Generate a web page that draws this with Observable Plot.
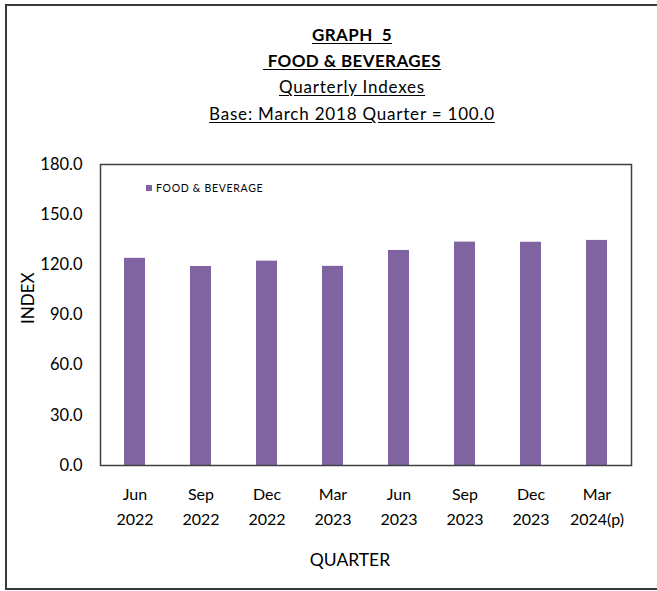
<!DOCTYPE html>
<html>
<head>
<meta charset="utf-8">
<script src="https://cdn.jsdelivr.net/npm/d3@7"></script>
<script src="https://cdn.jsdelivr.net/npm/@observablehq/plot@0.6"></script>
<style>
  html, body { margin: 0; padding: 0; background: #fff; }
  #wrap { position: relative; width: 657px; height: 591px; overflow: hidden; font-family: Lato, "Open Sans", sans-serif; color: #000; }
  #border { position: absolute; left: 5px; top: 4px; width: 700px; height: 586px; border: 2px solid #3a3a3a; box-sizing: border-box; }
  #titles { position: absolute; left: 0; top: 0; width: 657px; height: 140px; text-align: center; }
  #titles div { position: absolute; left: 0; width: 704px; text-align: center; font-size: 17px; letter-spacing: 0.8px; }
  #titles div.b { font-weight: bold; letter-spacing: 0.4px; }
  #titles span { text-decoration: underline; text-underline-offset: 2px; }
  #chart { position: absolute; left: 0; top: 140px; }
  #legend { position: absolute; left: 146px; top: 182px; font-size: 10.5px; letter-spacing: 0.7px; display: flex; align-items: center; font-family: Lato, sans-serif; }
  #legend i { display: inline-block; width: 6px; height: 6px; background: #8064A2; margin-right: 4px; }
</style>
</head>
<body>
<div id="wrap">
  <div id="border"></div>
  <div id="titles">
    <div class="b" style="top:24px"><span>GRAPH&nbsp; 5</span></div>
    <div class="b" style="top:50px"><span>&nbsp;FOOD &amp; BEVERAGES</span></div>
    <div style="top:76px"><span>Quarterly Indexes</span></div>
    <div style="top:103px"><span>Base: March 2018 Quarter = 100.0</span></div>
  </div>
  <div id="chart"></div>
  <div id="legend"><i></i><span>FOOD &amp; BEVERAGE</span></div>
</div>
<script>
const quarters = ["Jun\n2022", "Sep\n2022", "Dec\n2022", "Mar\n2023", "Jun\n2023", "Sep\n2023", "Dec\n2023", "Mar\n2024(p)"];
const values = [123.9, 119.0, 122.2, 119.1, 128.6, 133.6, 133.5, 134.6];
const yTicks = [0, 30, 60, 90, 120, 150, 180];
const seriesName = "FOOD & BEVERAGE";
const xTitle = "QUARTER";
const yTitle = "INDEX";

const data = quarters.map((q, i) => ({quarter: q, value: values[i], series: seriesName}));

const chart = Plot.plot({
  width: 657,
  height: 451,
  marginTop: 24,
  marginBottom: 126,
  marginLeft: 100,
  marginRight: 26,
  style: {fontFamily: "Lato, 'Open Sans', sans-serif", fontSize: "16px", color: "#000", background: "transparent"},
  x: {domain: quarters, paddingInner: 0.68, paddingOuter: 0.34, label: null},
  y: {domain: [0, 180], label: null},
  marks: [
    Plot.barY(data, {x: "quarter", y: "value", fill: "#8064A2"}),
    Plot.frame({stroke: "#404040", strokeWidth: 1.5}),
    Plot.axisY({ticks: yTicks, tickFormat: d => d.toFixed(1), tickSize: 0, tickPadding: 18, fontSize: 16.5, letterSpacing: 0.8, label: null}),
    Plot.axisX({tickSize: 0, tickPadding: 16, fontSize: 16, letterSpacing: 0.4, lineHeight: 1.6, label: null}),
    Plot.text([xTitle], {text: d => d, frameAnchor: "bottom", dx: -16, dy: 100, fontSize: 17.5, letterSpacing: 0.6}),
    Plot.text([yTitle], {text: d => d, frameAnchor: "left", rotate: -90, dx: -72, dy: 9, fontSize: 17, letterSpacing: 1})
  ]
});
document.getElementById("chart").appendChild(chart);
</script>
</body>
</html>
